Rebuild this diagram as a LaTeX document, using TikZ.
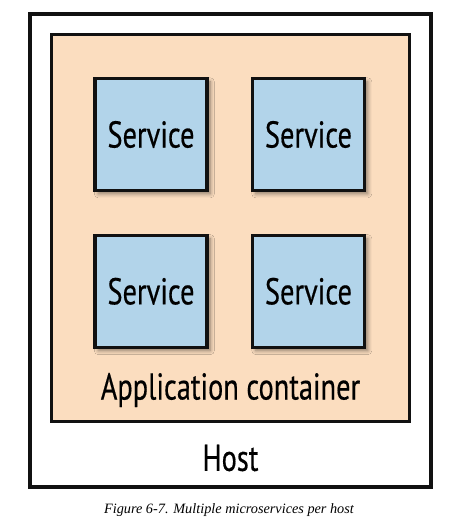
\documentclass[tikz,border=0pt]{standalone}
\usepackage{fontspec}
\setmainfont{Liberation Serif}
\newfontfamily\labelfont[FakeStretch=0.76, FakeBold=0.4]{PT Sans}
\usetikzlibrary{positioning, shadows, shadows.blur}

\definecolor{hostline}{HTML}{111111}
\definecolor{appfill}{HTML}{FBDDBF}
\definecolor{svcfill}{HTML}{B2D4EA}

\begin{document}
\begin{tikzpicture}[
    x=0.75pt, y=-0.75pt,
    hostbox/.style={rectangle, draw=hostline, line width=3pt, fill=white,
        minimum width=300.75pt, minimum height=354.75pt, inner sep=0pt},
    appbox/.style={rectangle, draw=hostline, line width=2.4pt, fill=appfill,
        minimum width=268.5pt, minimum height=290.25pt, inner sep=0pt},
    svcbox/.style={rectangle, draw=hostline, line width=2.6pt, fill=svcfill,
        minimum width=84pt, minimum height=84pt, inner sep=0pt,
        font=\labelfont\fontsize{28}{33}\selectfont,
        blur shadow={shadow xshift=2.5pt, shadow yshift=-2.5pt, shadow blur radius=3pt,
            shadow opacity=45, shadow blur steps=6}},
    boxlabel/.style={inner sep=0pt, font=\labelfont\fontsize{28}{33}\selectfont},
    caption/.style={inner sep=0pt, font=\itshape\fontsize{10.7}{12}\selectfont}
]
\useasboundingbox (0,0) rectangle (457,527);

% boxes
\node[hostbox] (host) at (230.5,250.5) {};
\node[appbox] (app) at (230.5,228) {};

% services
\node[svcbox] (s1) at (151,134.5) {Service};
\node[svcbox, right=31.5pt of s1] (s2) {Service};
\node[svcbox, below=31pt of s1] (s3) {Service};
\node[svcbox, right=31.5pt of s3] (s4) {Service};

% labels
\node[boxlabel] (applabel) at (230.5,390) {Application container};
\node[boxlabel] (hostlabel) at (230.5,458) {Host};
\node[caption] (cap) at (229,510) {Figure 6-7. Multiple microservices per host};

\end{tikzpicture}
\end{document}
